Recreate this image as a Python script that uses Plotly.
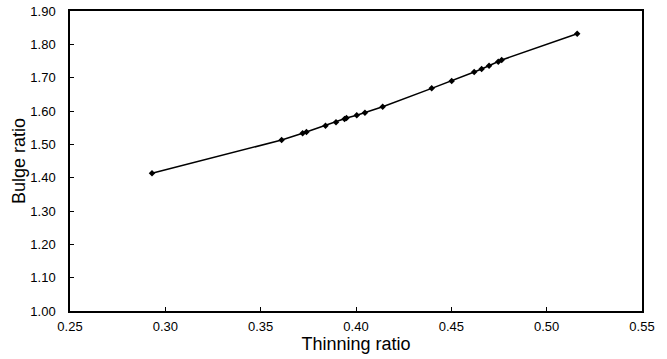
import plotly.graph_objects as go

thinning_ratio = [0.293, 0.361, 0.372, 0.374, 0.384, 0.3895, 0.394, 0.395, 0.4004, 0.4047,
                  0.414, 0.4397, 0.4502, 0.462, 0.4659, 0.4698, 0.4746, 0.4764, 0.516]
bulge_ratio = [1.413, 1.513, 1.533, 1.537, 1.556, 1.566, 1.576, 1.579, 1.587, 1.595,
               1.613, 1.668, 1.690, 1.717, 1.726, 1.736, 1.748, 1.753, 1.832]

x_ticks = [0.25, 0.30, 0.35, 0.40, 0.45, 0.50, 0.55]
y_ticks = [1.00, 1.10, 1.20, 1.30, 1.40, 1.50, 1.60, 1.70, 1.80, 1.90]

fig = go.Figure()
fig.add_trace(go.Scatter(
    x=thinning_ratio, y=bulge_ratio, mode="lines+markers",
    line=dict(color="black", width=1.5),
    marker=dict(symbol="diamond", size=5, color="black"),
    showlegend=False,
))

font = "Liberation Sans, Arial, sans-serif"
fig.update_layout(
    width=667, height=359,
    margin=dict(l=70, r=25, t=11, b=48),
    plot_bgcolor="white", paper_bgcolor="white",
    font=dict(family=font, color="black", size=13),
)
fig.update_xaxes(
    range=[0.25, 0.55], tickvals=x_ticks, ticktext=[f"{v:.2f}" for v in x_ticks],
    ticks="inside", ticklen=4, tickcolor="black", showgrid=False, zeroline=False,
    showline=True, linecolor="black", linewidth=1.5, mirror=True,
    ticklabelstandoff=3, automargin=False,
    title=dict(text="Thinning ratio", font=dict(size=18), standoff=0),
)
fig.update_yaxes(
    range=[1.00, 1.90], tickvals=y_ticks, ticktext=[f"{v:.2f}" for v in y_ticks],
    ticks="inside", ticklen=4, tickcolor="black", showgrid=False, zeroline=False,
    showline=True, linecolor="black", linewidth=1.5, mirror=True,
    ticklabelstandoff=10, automargin=False,
    title=dict(text="Bulge ratio", font=dict(size=18), standoff=0),
)
fig.write_html("out.html", config={"displayModeBar": False},
               post_script="document.body.style.margin='0';")
